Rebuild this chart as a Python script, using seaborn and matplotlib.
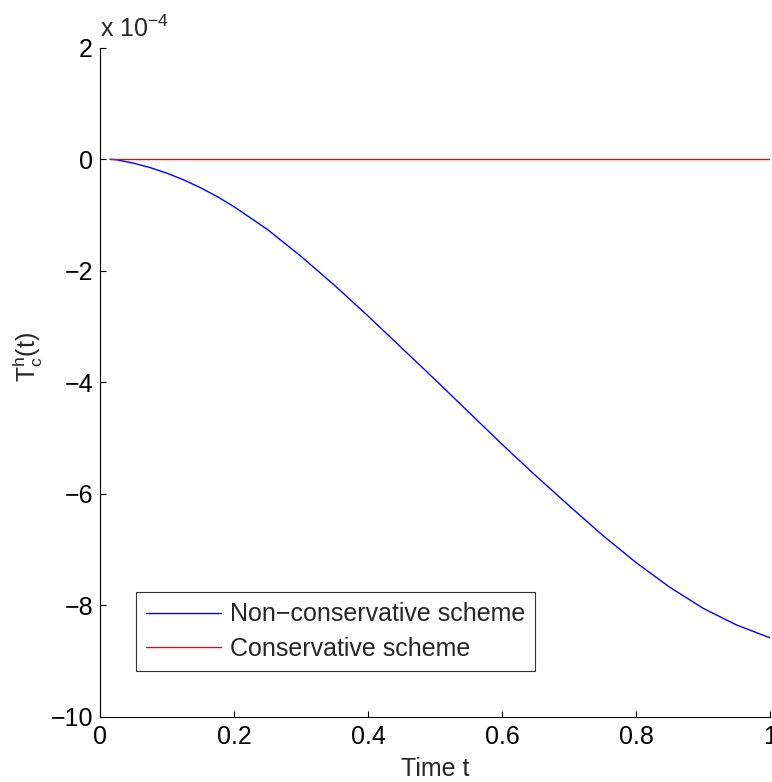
import matplotlib
matplotlib.use("Agg")
import matplotlib.pyplot as plt
import seaborn as sns
import pandas as pd
from matplotlib.ticker import FuncFormatter, MultipleLocator

# Data (in units of 1e-4)
time_t = [0.015, 0.025, 0.05, 0.075, 0.1, 0.125, 0.15, 0.175, 0.2, 0.25, 0.3, 0.35, 0.4,
          0.45, 0.5, 0.55, 0.6, 0.65, 0.7, 0.75, 0.8, 0.85, 0.9, 0.95, 1.0]
nonconservative_e4 = [0.0, -0.01, -0.07, -0.15, -0.25, -0.37, -0.51, -0.67, -0.85, -1.26,
                      -1.74, -2.26, -2.81, -3.38, -3.95, -4.53, -5.11, -5.67, -6.21,
                      -6.74, -7.23, -7.67, -8.05, -8.35, -8.58]
conservative_e4 = [0.0] * len(time_t)
series_names = ["Non\u2212conservative scheme", "Conservative scheme"]
scale = 1e-4

df = pd.DataFrame({
    "t": time_t * 2,
    "T": [v * scale for v in nonconservative_e4] + [v * scale for v in conservative_e4],
    "scheme": [series_names[0]] * len(time_t) + [series_names[1]] * len(time_t),
})

sns.set_style("white")
plt.rcParams["font.family"] = ["Liberation Sans", "DejaVu Sans"]
plt.rcParams["mathtext.fontset"] = "custom"
plt.rcParams["mathtext.rm"] = "Liberation Sans"
plt.rcParams["mathtext.it"] = "Liberation Sans"
plt.rcParams["axes.unicode_minus"] = True

FS = 18
fig = plt.figure(figsize=(7.72, 7.82), dpi=100)
ax = fig.add_axes([100 / 772, 65 / 782, 670 / 772, 669.3 / 782])

sns.lineplot(data=df, x="t", y="T", hue="scheme", palette=["blue", "red"],
             linewidth=1.0, ax=ax, sort=False, estimator=None)

ax.set_xlim(0, 1)
ax.set_ylim(-10 * scale, 2 * scale)
ax.xaxis.set_major_locator(MultipleLocator(0.2))
ax.yaxis.set_major_locator(MultipleLocator(2 * scale))
ax.xaxis.set_major_formatter(FuncFormatter(lambda v, p: "0" if abs(v) < 1e-9 else ("1" if abs(v - 1) < 1e-9 else f"{v:g}")))
ax.yaxis.set_major_formatter(FuncFormatter(lambda v, p: f"{round(v / scale):d}".replace("-", "\u2212")))

for s in ["top", "right"]:
    ax.spines[s].set_visible(False)
for s in ["left", "bottom"]:
    ax.spines[s].set_color("black")
    ax.spines[s].set_linewidth(0.8)
ax.tick_params(bottom=True, left=True, direction="in", length=4.5, width=0.8,
               labelsize=FS, colors="black")
ax.tick_params(axis="x", pad=6)
ax.tick_params(axis="y", pad=5)

ax.set_xlabel("Time t", fontsize=FS)
ax.xaxis.set_label_coords(0.5, -0.060)
ax.set_ylabel(r"T$_\mathregular{c}^\mathregular{h}$(t)", fontsize=FS)
ax.yaxis.set_label_coords(-0.082, 0.538)
ax.text(0.0, 1.008, r"x 10$^{\mathregular{-4}}$", transform=ax.transAxes,
        fontsize=FS, ha="left", va="bottom")

leg = ax.legend(loc="lower left", bbox_to_anchor=(0.0537, 0.0688), borderaxespad=0,
                fontsize=FS, frameon=True, fancybox=False, edgecolor="black",
                handlelength=3.0, handletextpad=0.36, borderpad=0.4, labelspacing=0.42)
leg.get_frame().set_linewidth(0.8)
leg.set_title(None)

fig.savefig("out.png", dpi=100)
